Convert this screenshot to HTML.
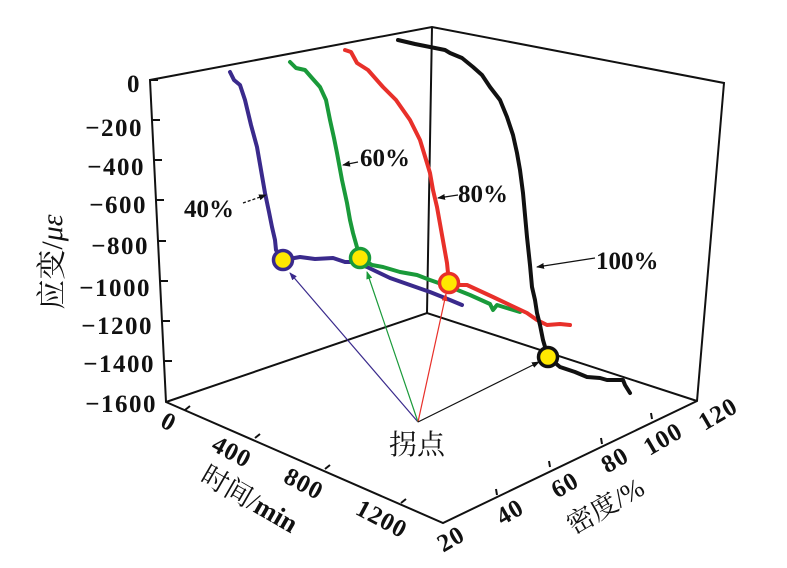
<!DOCTYPE html>
<html><head><meta charset="utf-8"><style>
html,body{margin:0;padding:0;background:#fff}
svg{display:block}
text{font-family:"Liberation Serif","Noto Serif CJK SC",serif;font-weight:bold;fill:#111}
.cj{font-family:"Liberation Serif","Noto Serif CJK SC","Noto Sans CJK SC",serif;font-weight:normal}
</style></head><body>
<svg width="787" height="568" viewBox="0 0 787 568" xmlns="http://www.w3.org/2000/svg">
<defs>
<marker id="ah" markerWidth="8" markerHeight="6" refX="7" refY="3" orient="auto" markerUnits="userSpaceOnUse"><path d="M0,0 L8,3 L0,6z" fill="#111"/></marker>
<marker id="ahb" markerWidth="8" markerHeight="6" refX="7" refY="3" orient="auto" markerUnits="userSpaceOnUse"><path d="M0,0 L8,3 L0,6z" fill="#3a2a8c"/></marker>
<marker id="ahg" markerWidth="8" markerHeight="6" refX="7" refY="3" orient="auto" markerUnits="userSpaceOnUse"><path d="M0,0 L8,3 L0,6z" fill="#1a9a3a"/></marker>
<marker id="ahr" markerWidth="8" markerHeight="6" refX="7" refY="3" orient="auto" markerUnits="userSpaceOnUse"><path d="M0,0 L8,3 L0,6z" fill="#e8302a"/></marker>
</defs>
<g stroke="#111" stroke-width="2" fill="none">
<path d="M166,402 L150,80 L432,27 L724,83 L697,401 L443,523 Z"/>
<path d="M432,27 L427,313 M166,402 L427,313 L697,401"/>
<path d="M150,80h8 M152,120h8 M154,160h8 M156,200h8 M158,241h8 M160,281h8 M162,321h8 M164,361h8"/>
<path d="M185,410l5,-4 M255,438l5,-4 M325,469l5,-4 M401,503l5,-4"/>
<path d="M497,495l-1,-6 M550,467l-1,-6 M602,444l-1,-6 M652,419l-1,-6"/>
</g>
<g font-size="25" text-anchor="end" letter-spacing="1.5">
<text x="141" y="92">0</text>
<text x="143" y="136">−200</text>
<text x="145" y="175">−400</text>
<text x="147" y="213">−600</text>
<text x="149" y="254">−800</text>
<text x="151" y="296">−1000</text>
<text x="153" y="334">−1200</text>
<text x="155" y="372">−1400</text>
<text x="157" y="412">−1600</text>
</g>
<g font-size="25" text-anchor="middle" letter-spacing="1">
<text transform="translate(165,429) rotate(28)">0</text>
<text transform="translate(228,459) rotate(28)">400</text>
<text transform="translate(300,491) rotate(28)">800</text>
<text transform="translate(378,526) rotate(28)">1200</text>
<text transform="translate(455,546) rotate(-30)">20</text>
<text transform="translate(514,519) rotate(-30)">40</text>
<text transform="translate(569,492) rotate(-30)">60</text>
<text transform="translate(619,467) rotate(-30)">80</text>
<text transform="translate(667,446) rotate(-30)">100</text>
<text transform="translate(722,421) rotate(-30)">120</text>
</g>
<text class="cj" font-size="30" text-anchor="middle" transform="translate(62,262) rotate(-90)">应变/<tspan font-style="italic" font-family="Liberation Serif,serif">με</tspan></text>
<text class="cj" font-size="27" text-anchor="middle" transform="translate(245,507) rotate(30)">时间/<tspan font-weight="bold">min</tspan></text>
<text class="cj" font-size="27" text-anchor="middle" transform="translate(610,514) rotate(-30)">密度/%</text>
<text class="cj" font-size="28" text-anchor="middle" x="417" y="454">拐点</text>
<g fill="none" stroke-width="4" stroke-linejoin="round" stroke-linecap="round">
<path stroke="#3a2a8c" d="M230,72 L234,80 L240,85 L245,100 L251,125 L257,147 L261,170 L265,193 L269,212 L272,227 L275,240 L276,250 L283,260 L300,257 L315,259 L333,258 L345,262 L353,262 L367,267 L390,278 L410,285 L430,292 L450,300 L462,305"/>
<path stroke="#1a9a3a" d="M290,62 L296,68 L305,70 L312,78 L320,87 L326,100 L330,120 L334,138 L337,153 L342,180 L347,203 L350,220 L353,233 L360,258 L372,265 L383,267 L400,272 L417,275 L430,280 L450,287 L470,295 L490,304 L493,310 L497,305 L510,309 L520,312"/>
<path stroke="#e8302a" d="M345,50 L351,52 L357,63 L368,70 L383,87 L396,100 L410,120 L420,140 L427,163 L430,173 L433,190 L437,207 L442,235 L447,263 L449,283 L460,285 L467,285 L480,291 L493,297 L510,305 L527,313 L537,320 L547,325 L560,324 L570,325"/>
<path stroke="#111" d="M398,40 L415,44 L430,47 L445,50 L450,53 L462,58 L473,67 L482,75 L490,87 L500,100 L507,117 L513,135 L517,153 L520,170 L523,193 L525,215 L527,237 L530,265 L532,287 L535,300 L537,313 L540,325 L543,340 L548,357 L560,367 L575,372 L587,377 L600,378 L607,380 L623,380 L625,385 L630,393"/>
</g>
<g stroke-width="1.2" fill="none">
<line x1="418" y1="422" x2="290" y2="273" stroke="#3a2a8c" marker-end="url(#ahb)"/>
<line x1="418" y1="422" x2="367" y2="272" stroke="#1a9a3a" marker-end="url(#ahg)"/>
<line x1="418" y1="422" x2="446" y2="294" stroke="#e8302a" marker-end="url(#ahr)"/>
<line x1="418" y1="422" x2="539" y2="362" stroke="#111" marker-end="url(#ah)"/>
</g>
<g fill="#ffe800" stroke-width="3.5">
<circle cx="283" cy="260" r="9.5" stroke="#3a2a8c"/>
<circle cx="360" cy="258" r="9.5" stroke="#1a9a3a"/>
<circle cx="449" cy="283" r="9.5" stroke="#e8302a"/>
<circle cx="548" cy="357" r="9.5" stroke="#111"/>
</g>
<g stroke="#111" stroke-width="1.3" fill="none">
<line x1="243" y1="203" x2="266" y2="195" stroke-dasharray="3,2" marker-end="url(#ah)"/>
<line x1="358" y1="162" x2="343" y2="165" marker-end="url(#ah)"/>
<line x1="458" y1="195" x2="438" y2="198" marker-end="url(#ah)"/>
<line x1="595" y1="258" x2="537" y2="267" marker-end="url(#ah)"/>
</g>
<g font-size="25">
<text x="184" y="217">40%</text>
<text x="360" y="166">60%</text>
<text x="458" y="202">80%</text>
<text x="596" y="269">100%</text>
</g>
</svg>
</body></html>
